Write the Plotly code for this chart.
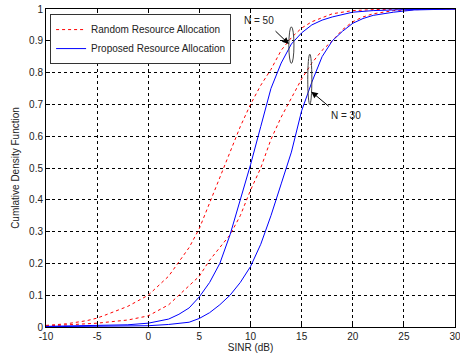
import plotly.graph_objects as go

# SINR grid points (dB) and CDF values
x_rand50 = [-10, -8, -6, -5, -4, -2, 0, 2, 4, 5, 6, 7, 8, 9, 10, 11, 12, 13, 14, 15, 16, 18, 20, 22, 25, 30]
y_rand50 = [0.005, 0.01, 0.02, 0.028, 0.04, 0.065, 0.1, 0.16, 0.25, 0.31, 0.39, 0.47, 0.55, 0.63, 0.70, 0.76, 0.81, 0.87, 0.91, 0.94, 0.96, 0.985, 0.995, 0.998, 1.0, 1.0]

x_rand30 = [-10, -8, -5, -2, 0, 2, 3, 5, 6, 7, 8, 9, 10, 11, 12, 13, 14, 15, 16, 17, 18, 19, 20, 21, 22, 24, 26, 30]
y_rand30 = [0.003, 0.006, 0.012, 0.022, 0.035, 0.07, 0.1, 0.16, 0.21, 0.25, 0.29, 0.35, 0.43, 0.50, 0.59, 0.66, 0.72, 0.78, 0.83, 0.87, 0.90, 0.935, 0.96, 0.975, 0.985, 0.995, 0.998, 1.0]

x_prop50 = [-10, -5, -2, 0, 2, 3, 4, 5, 6, 7, 8, 9, 10, 11, 12, 13, 14, 15, 16, 17, 18, 20, 22, 25, 30]
y_prop50 = [0.002, 0.004, 0.007, 0.012, 0.025, 0.04, 0.06, 0.095, 0.14, 0.2, 0.29, 0.4, 0.51, 0.63, 0.75, 0.83, 0.89, 0.925, 0.95, 0.965, 0.975, 0.99, 0.995, 0.998, 1.0]

x_prop30 = [-10, -5, 0, 2, 4, 5, 6, 7, 8, 9, 10, 11, 12, 13, 14, 15, 16, 17, 18, 19, 20, 21, 22, 24, 26, 30]
y_prop30 = [0.001, 0.002, 0.004, 0.008, 0.015, 0.027, 0.045, 0.07, 0.1, 0.14, 0.19, 0.26, 0.35, 0.45, 0.55, 0.68, 0.77, 0.85, 0.9, 0.93, 0.955, 0.97, 0.98, 0.99, 0.997, 1.0]

x_ticks = [-10, -5, 0, 5, 10, 15, 20, 25, 30]
x_ticklabels = ["-10", "-5", "0", "5", "10", "15", "20", "25", "30"]
y_ticks = [0, 0.1, 0.2, 0.3, 0.4, 0.5, 0.6, 0.7, 0.8, 0.9, 1]
y_ticklabels = ["0", "0.1", "0.2", "0.3", "0.4", "0.5", "0.6", "0.7", "0.8", "0.9", "1"]

RED = "#ff0000"
BLUE = "#0000ff"
FONT = "Liberation Sans, Arial, sans-serif"
TXT = "#222222"

fig = go.Figure()
fig.add_trace(go.Scatter(x=x_rand50, y=y_rand50, mode="lines", name="Random Resource Allocation",
                         line=dict(color=RED, width=1, dash="dot"), legendgroup="r"))
fig.add_trace(go.Scatter(x=x_rand30, y=y_rand30, mode="lines", showlegend=False,
                         line=dict(color=RED, width=1, dash="dot"), legendgroup="r"))
fig.add_trace(go.Scatter(x=x_prop50, y=y_prop50, mode="lines", name="Proposed Resource Allocation",
                         line=dict(color=BLUE, width=1), legendgroup="b"))
fig.add_trace(go.Scatter(x=x_prop30, y=y_prop30, mode="lines", showlegend=False,
                         line=dict(color=BLUE, width=1), legendgroup="b"))

# ellipses marking curve groups
fig.add_shape(type="circle", xref="x", yref="y", x0=13.75, x1=14.25, y0=0.829, y1=0.944,
              line=dict(color="#444444", width=1))
fig.add_shape(type="circle", xref="x", yref="y", x0=15.6, x1=16.0, y0=0.70, y1=0.858,
              line=dict(color="#444444", width=1))

fig.add_annotation(x=13.75, y=0.89, ax=12.3, ay=0.935, axref="x", ayref="y",
                   text="", showarrow=True, arrowhead=2, arrowsize=1.3, arrowwidth=1, arrowcolor="black")
fig.add_annotation(x=10.8, y=0.965, text="N = 50", showarrow=False, xanchor="center", yanchor="middle",
                   font=dict(family=FONT, size=10, color=TXT))
fig.add_annotation(x=15.95, y=0.74, ax=17.8, ay=0.69, axref="x", ayref="y",
                   text="", showarrow=True, arrowhead=2, arrowsize=1.3, arrowwidth=1, arrowcolor="black")
fig.add_annotation(x=19.3, y=0.664, text="N = 30", showarrow=False, xanchor="center", yanchor="middle",
                   font=dict(family=FONT, size=10, color=TXT))

axis_common = dict(showline=True, linecolor="black", linewidth=1, mirror="ticks",
                   ticks="inside", ticklen=4, tickcolor="black",
                   showgrid=True, gridcolor="black", gridwidth=1, griddash="dot",
                   zeroline=False, automargin=False, ticklabeloverflow="allow",
                   tickfont=dict(family=FONT, size=10, color=TXT))

fig.update_xaxes(range=[-10, 30], tickvals=x_ticks, ticktext=x_ticklabels,
                 title=dict(text="SINR (dB)", font=dict(family=FONT, size=10, color=TXT), standoff=1),
                 **axis_common)
fig.update_yaxes(range=[0, 1], tickvals=y_ticks, ticktext=y_ticklabels,
                 title=dict(text="Cumlative Density Function", font=dict(family=FONT, size=10, color=TXT), standoff=7),
                 **axis_common)

fig.update_layout(
    width=460, height=356,
    margin=dict(l=46, r=5, t=9, b=29),
    paper_bgcolor="white", plot_bgcolor="white",
    font=dict(family=FONT, size=10, color=TXT),
    legend=dict(x=0.01, y=0.984, xanchor="left", yanchor="top",
                bgcolor="white", bordercolor="#333333", borderwidth=1,
                font=dict(family=FONT, size=10, color=TXT),
                tracegroupgap=0, itemwidth=30),
    showlegend=True,
)

fig.write_html("out.html", config={"displayModeBar": False},
               post_script="document.body.style.margin='0';document.body.style.overflow='hidden';")
